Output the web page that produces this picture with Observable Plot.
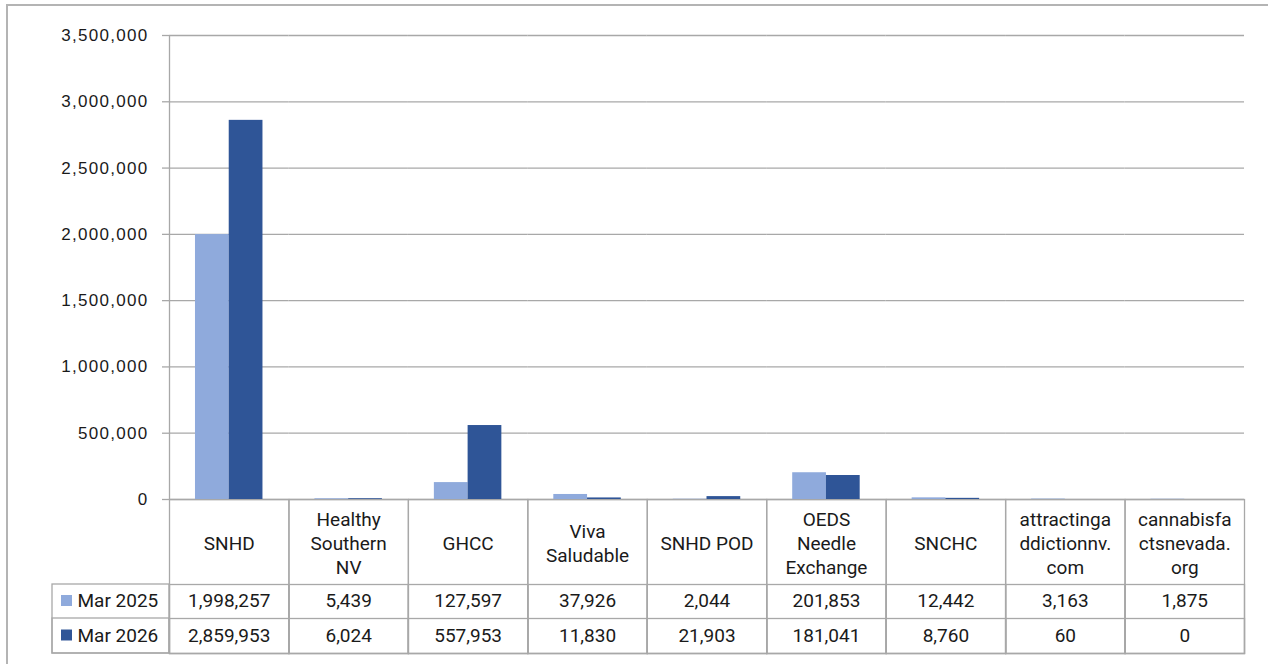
<!DOCTYPE html>
<html><head><meta charset="utf-8">
<script src="https://cdn.jsdelivr.net/npm/d3@7"></script>
<script src="https://cdn.jsdelivr.net/npm/@observablehq/plot@0.6"></script>
<style>
body{margin:0;background:#fff;overflow:hidden;}
#frame{position:absolute;left:6px;top:4px;width:1300px;height:700px;border-left:2px solid #b4b4b4;border-top:2px solid #b4b4b4;}
#chart{position:absolute;left:0;top:0;}
g[aria-label="y-axis tick label"] text{letter-spacing:1.3px;}
</style></head><body>
<div id="frame"></div>
<div id="chart"></div>
<script>
const categories = ["SNHD","Healthy Southern NV","GHCC","Viva Saludable","SNHD POD","OEDS Needle Exchange","SNCHC","attractingaddictionnv.com","cannabisfactsnevada.org"];
const categoryLabels = ["SNHD","Healthy\nSouthern\nNV","GHCC","Viva\nSaludable","SNHD POD","OEDS\nNeedle\nExchange","SNCHC","attractinga\nddictionnv.\ncom","cannabisfa\nctsnevada.\norg"];
const seriesNames = ["Mar 2025","Mar 2026"];
const mar2025 = [1998257,5439,127597,37926,2044,201853,12442,3163,1875];
const mar2026 = [2859953,6024,557953,11830,21903,181041,8760,60,0];
const yTicks = [0,500000,1000000,1500000,2000000,2500000,3000000,3500000];
const seriesColors = ["#8faadc","#2f5597"];

const W = 1268, H = 664, mL = 169, mR = 24, mT = 35, mB = 165;
const bw = (W - mL - mR) / categories.length;
const plotH = H - mT - mB;
const grid = "#a8a8a8";
const fmt = d3.format(",");
const txt = {fontFamily: "Roboto", fontSize: 19, fill: "#1a1a1a", lineAnchor: "middle"};

const rows = categories.flatMap((c, i) => [
  {cat: c, series: seriesNames[0], value: mar2025[i]},
  {cat: c, series: seriesNames[1], value: mar2026[i]}
]);
const first = [categories[0]];

const chart = Plot.plot({
  width: W, height: H,
  marginLeft: mL, marginRight: mR, marginTop: mT, marginBottom: mB,
  style: {fontFamily: "Liberation Sans", fontSize: "17px", background: "transparent", color: "#1a1a1a"},
  fx: {domain: categories, padding: 0, round: false, axis: null},
  x: {domain: seriesNames, paddingInner: 0, paddingOuter: 0.77, align: 0.5, round: false, axis: null},
  y: {domain: [0, 3500000]},
  color: {domain: seriesNames, range: seriesColors},
  marks: [
    Plot.gridY(yTicks, {stroke: grid, strokeOpacity: 1, strokeWidth: 1.3}),
    Plot.axisY({ticks: yTicks, tickFormat: fmt, tickSize: 7, tickPadding: 14, stroke: grid, strokeOpacity: 1, strokeWidth: 1.3, fill: "#1a1a1a", fontSize: 17, label: null}),
    Plot.ruleX(first, {fx: d => d, x: null, dx: -bw / 2, stroke: grid, strokeWidth: 1.3}),
    // data table grid
    Plot.frame({stroke: grid, strokeWidth: 1.3, insetTop: plotH, insetBottom: -154}),
    Plot.frame({stroke: grid, strokeWidth: 1.3, insetTop: plotH + 85, insetBottom: -154}),
    Plot.frame({stroke: grid, strokeWidth: 1.3, insetTop: plotH + 119, insetBottom: -154}),
    Plot.rect(first, {fx: d => d, fill: "none", stroke: grid, strokeWidth: 1.3, insetLeft: -117, insetRight: bw, insetTop: plotH + 85, insetBottom: -154}),
    Plot.rect(first, {fx: d => d, fill: "none", stroke: grid, strokeWidth: 1.3, insetLeft: -117, insetRight: bw, insetTop: plotH + 119, insetBottom: -154}),
    // bars
    Plot.barY(rows, {fx: "cat", x: "series", y: "value", fill: "series"}),
    // table text
    Plot.text(categories, {fx: d => d, text: (d, i) => categoryLabels[i], frameAnchor: "bottom", dy: 42.5, lineHeight: 24 / 19, ...txt}),
    Plot.text(categories, {fx: d => d, text: (d, i) => fmt(mar2025[i]), frameAnchor: "bottom", dy: 101.5, ...txt}),
    Plot.text(categories, {fx: d => d, text: (d, i) => fmt(mar2026[i]), frameAnchor: "bottom", dy: 136, ...txt}),
    // legend keys inside the table
    Plot.dot(seriesNames, {fx: () => categories[0], fill: d => d, symbol: "square", r: 6.2, frameAnchor: "bottom-left", dx: -103, dy: 101, filter: d => d === seriesNames[0]}),
    Plot.dot(seriesNames, {fx: () => categories[0], fill: d => d, symbol: "square", r: 6.2, frameAnchor: "bottom-left", dx: -103, dy: 135.5, filter: d => d === seriesNames[1]}),
    Plot.text(seriesNames, {fx: () => categories[0], text: d => d, frameAnchor: "bottom-left", textAnchor: "start", dx: -92, dy: 101.5, filter: d => d === seriesNames[0], ...txt}),
    Plot.text(seriesNames, {fx: () => categories[0], text: d => d, frameAnchor: "bottom-left", textAnchor: "start", dx: -92, dy: 136, filter: d => d === seriesNames[1], ...txt})
  ]
});
document.getElementById("chart").appendChild(chart);
</script>
</body></html>
